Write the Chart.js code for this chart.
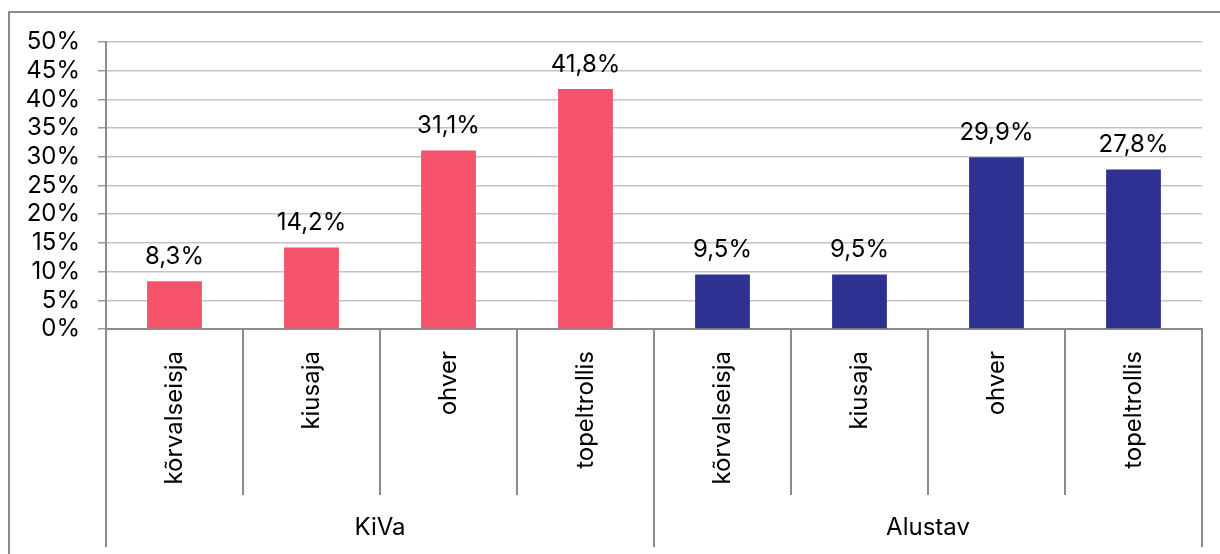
<!DOCTYPE html>
<html>
<head>
<meta charset="utf-8">
<script src="https://cdn.jsdelivr.net/npm/chart.js@4/dist/chart.umd.min.js"></script>
<style>
  html, body { margin: 0; padding: 0; background: #fff; }
  #wrap { width: 1220px; height: 554px; position: relative; }
</style>
</head>
<body>
<div id="wrap"><canvas id="chart"></canvas></div>
<script>
// andmed
const kategooriad = ['kõrvalseisja', 'kiusaja', 'ohver', 'topeltrollis', 'kõrvalseisja', 'kiusaja', 'ohver', 'topeltrollis'];
const grupid = ['KiVa', 'Alustav'];
const vaartused = [8.3, 14.2, 31.1, 41.8, 9.5, 9.5, 29.9, 27.8];
const varvid = ['#f4536b', '#f4536b', '#f4536b', '#f4536b', '#2e3192', '#2e3192', '#2e3192', '#2e3192'];

const FONT = 'Inter, "Noto Sans", sans-serif';
const SUURUS = 24;

function formatProtsent(v) {
    return v.toFixed(1).replace('.', ',') + '%';
}

// raam, eraldusjooned, grupi nimed ja väärtused tulpade kohal
const lisad = {
    id: 'lisad',
    afterDraw(chart) {
        const ctx = chart.ctx;
        const x = chart.scales.x;
        const area = chart.chartArea;
        const n = kategooriad.length;
        const step = (area.right - area.left) / n;

        ctx.save();
        // välimine raam
        ctx.strokeStyle = '#8c8c8c';
        ctx.lineWidth = 2;
        ctx.strokeRect(9, 12, 1230, 600);

        // eraldusjooned kategooriate vahel
        ctx.lineWidth = 2;
        const perGrupp = n / grupid.length;
        for (let i = 0; i <= n; i++) {
            const px = Math.round(area.left + i * step);
            const lõpp = (i % perGrupp === 0) ? 547 : 495;
            ctx.beginPath();
            ctx.moveTo(px, area.bottom);
            ctx.lineTo(px, lõpp);
            ctx.stroke();
        }

        // grupi nimed
        ctx.fillStyle = '#000';
        ctx.font = SUURUS + 'px ' + FONT;
        ctx.textAlign = 'center';
        ctx.textBaseline = 'middle';
        grupid.forEach((g, gi) => {
            const kesk = x.getPixelForValue(gi * perGrupp + (perGrupp - 1) / 2);
            ctx.fillText(g, kesk, 528);
        });

        // väärtused
        const meta = chart.getDatasetMeta(0);
        ctx.textBaseline = 'alphabetic';
        meta.data.forEach((bar, i) => {
            ctx.fillText(formatProtsent(vaartused[i]), bar.x, bar.y - 17);
        });
        ctx.restore();
    }
};

const ctx = document.getElementById('chart').getContext('2d');

new Chart(ctx, {
    type: 'bar',
    data: {
        labels: kategooriad,
        datasets: [{
            data: vaartused,
            backgroundColor: varvid,
            borderWidth: 0,
            barPercentage: 0.4,
            categoryPercentage: 1.0
        }]
    },
    options: {
        responsive: true,
        maintainAspectRatio: false,
        animation: false,
        layout: {
            padding: { left: 0, right: 18, top: 42, bottom: 0 }
        },
        scales: {
            x: {
                grid: { display: false },
                border: { display: true, color: '#8c8c8c', width: 2 },
                ticks: {
                    color: '#000',
                    minRotation: 90,
                    maxRotation: 90,
                    padding: 14,
                    autoSkip: false,
                    font: { family: FONT, size: SUURUS }
                },
                afterFit(scale) { scale.height = 225; }
            },
            y: {
                min: 0,
                max: 50,
                ticks: {
                    stepSize: 5,
                    autoSkip: false,
                    color: '#000',
                    padding: 18,
                    font: { family: FONT, size: SUURUS },
                    callback: v => v + '%'
                },
                grid: {
                    color: '#c4c4c4',
                    lineWidth: 1.5,
                    tickColor: '#9a9a9a',
                    tickLength: 8
                },
                border: { display: true, color: '#8c8c8c', width: 2 },
                afterFit(scale) { scale.width = 106; }
            }
        },
        plugins: {
            legend: { display: false },
            tooltip: { enabled: false }
        }
    },
    plugins: [lisad]
});
</script>
</body>
</html>
